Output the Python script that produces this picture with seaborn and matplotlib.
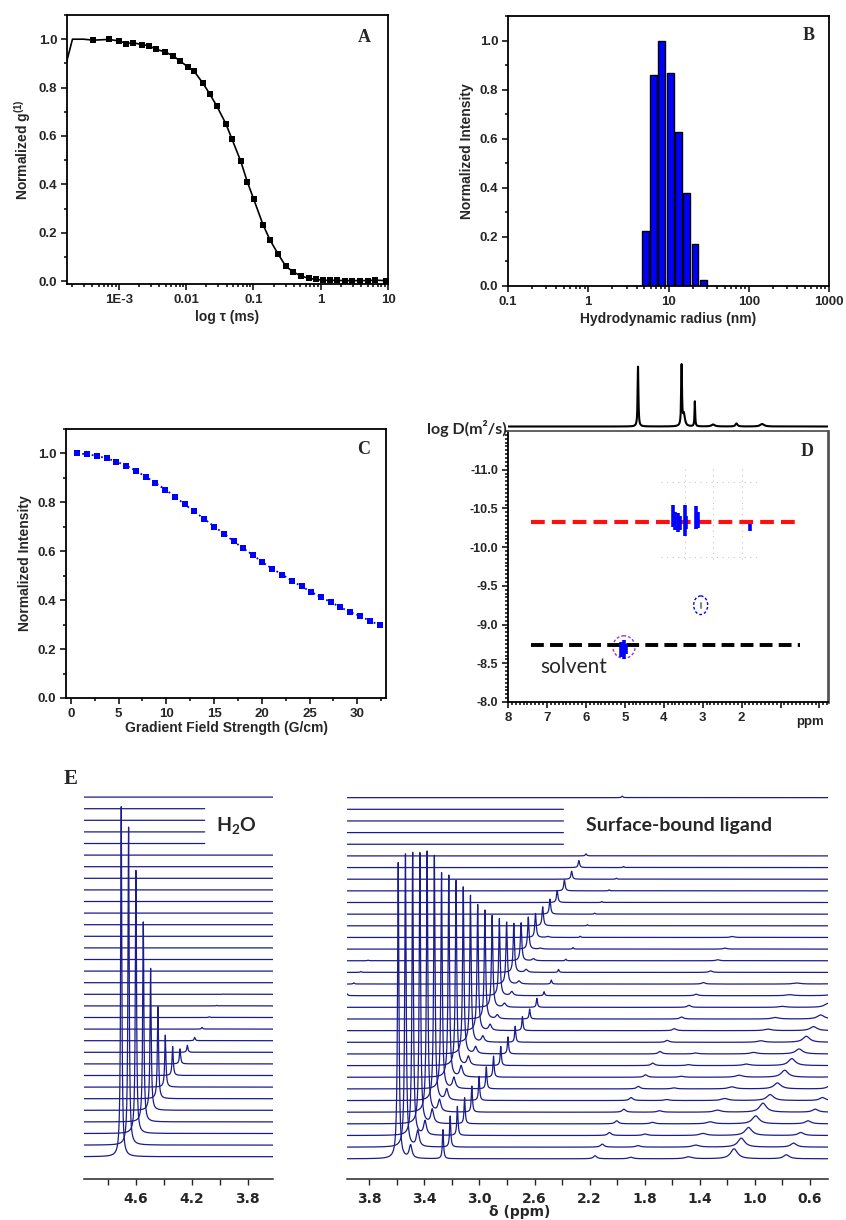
import numpy as np
import seaborn as sns
import matplotlib.pyplot as plt
from matplotlib.patches import Ellipse
from matplotlib.ticker import MultipleLocator, FixedLocator

# ---------------- A: correlation function (DLS)
tau_ms = [4.2e-4, 7.1e-4, 1.0e-3, 1.3e-3, 1.63e-3, 2.2e-3, 2.8e-3, 3.6e-3, 4.8e-3, 6.3e-3,
          8.1e-3, 0.0105, 0.0132, 0.0178, 0.0224, 0.0288, 0.0389, 0.0479, 0.0646, 0.0813,
          0.101, 0.139, 0.178, 0.234, 0.302, 0.389, 0.513, 0.67, 0.86, 1.1, 1.36, 1.75,
          2.27, 2.95, 3.8, 5.0, 6.4, 9.2]
g1 = [0.996, 0.999, 0.993, 0.982, 0.985, 0.978, 0.973, 0.958, 0.948, 0.932,
      0.911, 0.886, 0.867, 0.818, 0.774, 0.722, 0.651, 0.588, 0.497, 0.410,
      0.339, 0.233, 0.168, 0.111, 0.062, 0.038, 0.021, 0.011, 0.007, 0.003, 0.003, 0.003,
      0.002, 0.002, 0.002, 0.002, 0.004, 0.002]
lead_tau = [1.68e-4, 2.05e-4, 3.0e-4]
lead_g = [0.907, 1.0, 1.0]

# ---------------- B: size distribution
radius_nm = [5.1, 6.4, 8.2, 10.5, 13.2, 16.8, 21.5, 27.1]
intensity_b = [0.223, 0.858, 1.0, 0.868, 0.626, 0.378, 0.173, 0.026]

# ---------------- C: DOSY decay
gradient = [0.70, 1.74, 2.72, 3.76, 4.77, 5.82, 6.83, 7.84, 8.85, 9.90, 10.94, 11.92,
            12.93, 13.97, 15.02, 16.03, 17.04, 18.05, 19.09, 20.07, 21.08, 22.13, 23.17,
            24.18, 25.16, 26.20, 27.25, 28.22, 29.23, 30.28, 31.29, 32.33]
intensity_c = [1.000, 0.997, 0.990, 0.980, 0.967, 0.950, 0.929, 0.905, 0.880, 0.852,
               0.823, 0.792, 0.763, 0.732, 0.701, 0.672, 0.641, 0.612, 0.584, 0.555,
               0.529, 0.505, 0.479, 0.456, 0.434, 0.412, 0.392, 0.371, 0.352, 0.335,
               0.316, 0.298]

# ---------------- D: DOSY map
proj_ppm = [4.66, 3.54, 3.48, 3.20, 2.73, 2.13, 1.47]
proj_height = [60, 60, 12, 25, 2, 3, 2.5]
proj_hwhm = [0.012, 0.012, 0.03, 0.01, 0.05, 0.03, 0.06]
ligand_logd = -10.33
solvent_logd = -8.73
contour_ppm = [3.76, 3.70, 3.64, 3.58, 3.46, 3.42, 3.18, 3.13, 1.79, 5.10, 5.03, 4.97]
contour_lo = [-10.55, -10.46, -10.44, -10.40, -10.55, -10.40, -10.53, -10.45, -10.30, -8.78, -8.80, -8.75]
contour_hi = [-10.26, -10.22, -10.20, -10.22, -10.14, -10.24, -10.23, -10.25, -10.21, -8.58, -8.56, -8.62]

# ---------------- E: stacked 1H spectra (bottom trace = lowest gradient)
skew_ppm = 0.0525
water_ppm = 4.704
water_h = [350, 318, 263, 200, 142, 92, 52, 29, 15, 7, 3.3, 1.7, 0.7, 0.5, 0.3] + [0] * 17
lig_ppm = [3.59, 3.50, 3.265, 2.16, 1.90, 1.48, 1.15, 0.77, 4.70]
lig_hwhm = [0.006, 0.012, 0.005, 0.015, 0.02, 0.03, 0.03, 0.025, 0.006]
h_359 = [296, 293, 283, 271, 261, 245, 216, 202, 185, 167, 147, 126, 109, 92, 77, 62,
         49, 38, 32, 24, 19, 15, 12, 11, 8, 7, 2, 1.5, 1.5, 1.5, 1.5, 1.5]
h_350 = [13, 16, 14, 14, 12, 11, 11, 11, 9, 7, 6, 6, 4, 4, 4, 3, 3, 2, 1, 1] + [0] * 12
h_326 = [29, 31, 29, 26, 26, 24, 22, 21, 19, 17, 16, 14, 10, 9, 4, 4, 3, 1.5, 1.5, 1.2,
         1, 1, 1, 1, 1, 1, 0, 0, 0, 0, 0, 0]
h_216 = [3, 3, 3, 3, 3, 3, 2.5, 2.5, 2.5, 2.5, 2, 2, 2, 2, 1.5, 1.5, 1.5, 1, 1, 1] + [0] * 12
h_190 = [1.5, 1.5, 1.5, 1.5, 1.5, 1, 1, 1, 1, 1] + [0] * 22
h_148 = [2, 2, 2, 2, 2, 2, 2, 2, 1.5, 1.5, 1.5, 1.5, 1.5, 1, 1, 1] + [0] * 16
h_115 = [10, 9, 8, 8, 9, 6, 6, 7, 7, 5, 6, 4, 4, 4, 3, 3] + [0] * 16
h_077 = [4, 4, 3, 3, 3, 3, 3, 2] + [0] * 24
h_470 = [0] * 13 + [3, 3, 1.2, 0.8, 0.6] + [0] * 14
n_traces = 32
short_traces = [27, 28, 29, 30]

sns.set_style("ticks")
plt.rcParams['font.family'] = ['Liberation Sans', 'DejaVu Sans']
plt.rcParams['font.weight'] = 'bold'
plt.rcParams['axes.labelweight'] = 'bold'
plt.rcParams['axes.linewidth'] = 1.3
plt.rcParams['axes.unicode_minus'] = False
plt.rcParams['mathtext.default'] = 'regular'

W, H = 846, 1220
fig = plt.figure(figsize=(W / 100, H / 100), dpi=100)


def px_axes(left, top, right, bottom):
    return fig.add_axes([left / W, 1 - bottom / H, (right - left) / W, (bottom - top) / H])


def style(ax, size=9.5):
    ax.tick_params(which='both', direction='out', width=1.1, labelsize=size, pad=2.5,
                   color='black')
    ax.tick_params(which='major', length=4.5)
    ax.tick_params(which='minor', length=2.5)
    for s in ax.spines.values():
        s.set_color('black')


def panel_label(ax, txt, x, y):
    ax.text(x, y, txt, transform=ax.transAxes, ha='center', va='center',
            fontfamily='Liberation Serif', fontweight='bold', fontsize=13)


# ---- A
ax_a = px_axes(67, 15, 388, 284)
ax_a.set_xscale('log')
sns.lineplot(x=lead_tau + tau_ms, y=lead_g + g1, ax=ax_a, color='black', lw=1.2,
             sort=False, estimator=None)
sns.scatterplot(x=tau_ms, y=g1, ax=ax_a, marker='s', s=22, color='black', linewidth=0)
ax_a.set_xlim(1.7e-4, 10)
ax_a.set_ylim(-0.012, 1.1)
ax_a.set_xticks([1e-3, 1e-2, 0.1, 1, 10])
ax_a.set_xticklabels(['1E-3', '0.01', '0.1', '1', '10'])
ax_a.yaxis.set_major_locator(MultipleLocator(0.2))
ax_a.yaxis.set_minor_locator(MultipleLocator(0.1))
ax_a.set_yticklabels([f'{v:.1f}' for v in ax_a.get_yticks()])
ax_a.set_ylim(-0.012, 1.1)
ax_a.set_xlabel('log τ (ms)', fontsize=10, labelpad=3)
ax_a.set_ylabel('Normalized g$^{(1)}$', fontsize=10, labelpad=4)
style(ax_a)
panel_label(ax_a, 'A', 0.925, 0.918)

# ---- B
ax_b = px_axes(508, 16, 829, 286)
bw = 0.1036
lo = np.log10(radius_nm[0]) - bw / 2
hi = np.log10(radius_nm[-1]) + bw / 2
sns.histplot(x=radius_nm, weights=intensity_b, log_scale=True, binwidth=bw,
             binrange=(lo, hi), shrink=0.84, color='#0000ff', edgecolor='black',
             linewidth=1.0, alpha=1, ax=ax_b)
ax_b.set_xlim(0.1, 1000)
ax_b.set_ylim(0, 1.1)
ax_b.set_xticks([0.1, 1, 10, 100, 1000])
ax_b.set_xticklabels(['0.1', '1', '10', '100', '1000'])
ax_b.yaxis.set_major_locator(MultipleLocator(0.2))
ax_b.yaxis.set_minor_locator(MultipleLocator(0.1))
ax_b.set_yticklabels([f'{v:.1f}' for v in ax_b.get_yticks()])
ax_b.set_ylim(0, 1.1)
ax_b.set_xlabel('Hydrodynamic radius (nm)', fontsize=10, labelpad=3)
ax_b.set_ylabel('Normalized Intensity', fontsize=10, labelpad=4)
style(ax_b)
panel_label(ax_b, 'B', 0.938, 0.926)

# ---- C
ax_c = px_axes(66, 429, 386, 698)
sns.lineplot(x=gradient, y=intensity_c, ax=ax_c, color='#0000ff', lw=1.3, ls=':')
sns.scatterplot(x=gradient, y=intensity_c, ax=ax_c, marker='s', s=22, color='#0000ff',
                linewidth=0)
ax_c.set_xlim(-0.5, 33)
ax_c.xaxis.set_major_locator(MultipleLocator(5))
ax_c.xaxis.set_minor_locator(MultipleLocator(2.5))
ax_c.yaxis.set_major_locator(MultipleLocator(0.2))
ax_c.yaxis.set_minor_locator(MultipleLocator(0.1))
ax_c.set_ylim(0, 1.1)
ax_c.set_yticklabels([f'{v:.1f}' for v in ax_c.get_yticks()])
ax_c.set_ylim(0, 1.1)
ax_c.set_xlabel('Gradient Field Strength (G/cm)', fontsize=10, labelpad=1)
ax_c.set_ylabel('Normalized Intensity', fontsize=10, labelpad=4)
style(ax_c)
panel_label(ax_c, 'C', 0.931, 0.922)

# ---- D projection spectrum
ax_p = px_axes(508, 360, 828, 431)
xp = np.linspace(-0.22, 8.0, 6000)
yp = np.zeros_like(xp)
for c, h, w in zip(proj_ppm, proj_height, proj_hwhm):
    yp += h * w ** 2 / ((xp - c) ** 2 + w ** 2)
ax_p.plot(xp, yp, color='black', lw=1.5)
ax_p.set_xlim(8.0, -0.22)
ax_p.set_ylim(-4.5, 66.5)
ax_p.axis('off')
fig.text(507 / W, 1 - 428 / H, 'log D(m²/s)', ha='right', va='center',
         fontfamily=['Lato', 'DejaVu Sans'], fontweight='bold', fontsize=11.5)

# ---- D map
ax_d = px_axes(508, 431, 828, 702)
ax_d.set_xlim(8.0, -0.22)
ax_d.set_ylim(-8.0, -11.5)
for xv in [3.46, 2.73, 1.98]:
    ax_d.plot([xv, xv], [-11.01, -9.84], color='#c8c8c8', lw=0.8, ls=(0, (1, 4)))
for yv in [-10.84, -9.875]:
    ax_d.plot([4.08, 1.55], [yv, yv], color='#c8c8c8', lw=0.8, ls=(0, (1, 4)))
ax_d.plot([7.40, 0.50], [ligand_logd, ligand_logd], color='#ff1010', lw=3.0,
          ls=(0, (3.3, 1.7)))
ax_d.plot([7.40, 0.50], [solvent_logd, solvent_logd], color='black', lw=2.8,
          ls=(0, (3.3, 1.6)))
ax_d.vlines(contour_ppm, contour_lo, contour_hi, color='#0000ff', lw=2.6)
ax_d.add_patch(Ellipse((5.02, -8.71), 0.57, 0.29, fill=False, ec='#9b30e0', lw=1.0,
                       ls=(0, (2, 1.5))))
ax_d.add_patch(Ellipse((3.05, -9.25), 0.36, 0.24, fill=False, ec='#0000ff', lw=1.0,
                       ls=(0, (2, 1.5))))
ax_d.plot([3.05, 3.05], [-9.28, -9.21], color='#888888', lw=1.5)
ax_d.text(6.31, -8.45, 'solvent', ha='center', va='center', fontfamily=['Lato', 'DejaVu Sans'],
          fontweight='normal', fontsize=15)
ax_d.set_xticks([8, 7, 6, 5, 4, 3, 2, 1, 0])
ax_d.set_xticklabels(['8', '7', '6', '5', '4', '3', '2', '', ''])
ax_d.xaxis.set_minor_locator(MultipleLocator(0.1))
ax_d.set_yticks([-11.0, -10.5, -10.0, -9.5, -9.0, -8.5, -8.0])
ax_d.set_yticklabels(['-11.0', '-10.5', '-10.0', '-9.5', '-9.0', '-8.5', '-8.0'])
ax_d.yaxis.set_minor_locator(MultipleLocator(0.05))
style(ax_d, size=9.5)
ax_d.tick_params(axis='y', labelsize=9)
ax_d.spines['top'].set_color('#555555')
ax_d.spines['right'].set_color('#555555')
ax_d.spines['right'].set_linewidth(2)
ax_d.text(0.944, -0.074, 'ppm', transform=ax_d.transAxes, ha='center', va='center',
          fontsize=9.5)
panel_label(ax_d, 'D', 0.934, 0.926)

# ---- E stacked spectra
line_col = '#1c1c8c'
ax_e1 = px_axes(84, 789.3, 273, 1179.3)
ax_e2 = px_axes(347.3, 789.3, 827.7, 1179.3)

x1 = np.arange(3.55, 5.05, 0.0005)
for i in range(n_traces):
    c = water_ppm - i * skew_ppm
    y = 22.6 + 11.6 * i + water_h[i] * 0.005 ** 2 / ((x1 - c) ** 2 + 0.005 ** 2)
    keep = x1 >= 4.108 if i in short_traces else np.ones_like(x1, dtype=bool)
    ax_e1.plot(x1[keep], y[keep], color=line_col, lw=0.9)

x2 = np.arange(0.4, 4.05, 0.0005)
lig_heights = [h_359, h_350, h_326, h_216, h_190, h_148, h_115, h_077, h_470]
for i in range(n_traces):
    y = np.full_like(x2, 20.5 + 11.65 * i)
    for p, w, hs in zip(lig_ppm, lig_hwhm, lig_heights):
        c = p - i * skew_ppm
        y += hs[i] * w ** 2 / ((x2 - c) ** 2 + w ** 2)
    keep = x2 >= 2.39 if i in short_traces else np.ones_like(x2, dtype=bool)
    ax_e2.plot(x2[keep], y[keep], color=line_col, lw=0.9)

ax_e1.set_xlim(4.97, 3.62)
ax_e2.set_xlim(3.96, 0.47)
ax_e1.set_xticks([4.8, 4.6, 4.4, 4.2, 4.0, 3.8])
ax_e1.set_xticklabels(['', '4.6', '', '4.2', '', '3.8'])
e2_ticks = [3.8, 3.6, 3.4, 3.2, 3.0, 2.8, 2.6, 2.4, 2.2, 2.0, 1.8, 1.6, 1.4, 1.2, 1.0, 0.8, 0.6]
ax_e2.set_xticks(e2_ticks)
ax_e2.set_xticklabels([f'{t:.1f}' if k % 2 == 0 else '' for k, t in enumerate(e2_ticks)])
for ax in (ax_e1, ax_e2):
    ax.set_ylim(0, 390)
    ax.set_yticks([])
    for side in ('left', 'right', 'top'):
        ax.spines[side].set_visible(False)
    ax.spines['bottom'].set_linewidth(1.1)
    ax.tick_params(axis='x', direction='out', length=4.5, width=1.0, pad=5)
    for lab in ax.get_xticklabels():
        lab.set_fontfamily('DejaVu Sans')
        lab.set_fontweight('bold')
        lab.set_fontsize(10)

ax_e2.text((520 - 347.3) / 480.4, -(1212 - 1179.3) / 390, 'δ (ppm)', transform=ax_e2.transAxes,
           ha='center', va='center', fontfamily='DejaVu Sans', fontweight='bold', fontsize=10)
ax_e1.text((236.5 - 84) / 189, 1 - (826 - 789.3) / 390, 'H$_\\mathregular{2}$O',
           transform=ax_e1.transAxes, ha='center', va='center',
           fontfamily=['Lato', 'DejaVu Sans'], fontweight='bold', fontsize=14)
ax_e2.text((679 - 347.3) / 480.4, 1 - (825 - 789.3) / 390, 'Surface-bound ligand',
           transform=ax_e2.transAxes, ha='center', va='center',
           fontfamily=['Lato', 'DejaVu Sans'], fontweight='bold', fontsize=14)
fig.text(71 / W, 1 - 779 / H, 'E', ha='center', va='center', fontfamily='Liberation Serif',
         fontweight='bold', fontsize=15)

fig.savefig('out.png', dpi=100)
